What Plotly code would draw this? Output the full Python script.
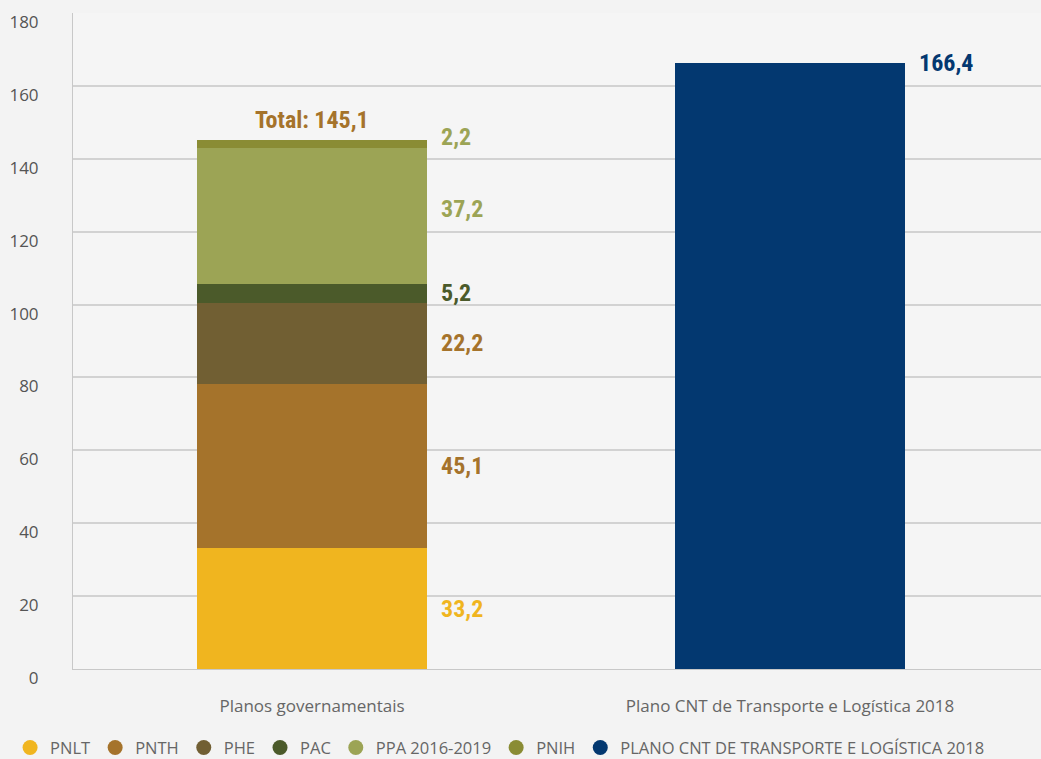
import plotly.graph_objects as go

categories = ["Planos governamentais", "Plano CNT de Transporte e Logística 2018"]
stack_names = ["PNLT", "PNTH", "PHE", "PAC", "PPA 2016-2019", "PNIH"]
stack_values = [33.2, 45.1, 22.2, 5.2, 37.2, 2.2]
stack_colors = ["#F0B51F", "#A5732B", "#715F33", "#4B5A2A", "#9CA455", "#8A8C34"]
label_colors = ["#F0B51F", "#A5732B", "#A5732B", "#4B5A2A", "#9CA455", "#9CA455"]
label_yshift = [0, 0, 0, 0, 7, 7]
cnt_name = "PLANO CNT DE TRANSPORTE E LOGÍSTICA 2018"
cnt_value = 166.4
cnt_color = "#033870"
y_ticks = [0, 20, 40, 60, 80, 100, 120, 140, 160, 180]

def fmt(v):
    return f"{v:.1f}".replace(".", ",")

LABEL_FONT = "Roboto Condensed, Roboto, sans-serif"
TEXT_FONT = "Open Sans, Noto Sans, sans-serif"

fig = go.Figure()
for name, val, col in zip(stack_names, stack_values, stack_colors):
    fig.add_trace(go.Bar(x=[categories[0]], y=[val], marker=dict(color=col, line=dict(width=0)),
                         name=name, showlegend=False, hoverinfo="skip"))
fig.add_trace(go.Bar(x=[categories[1]], y=[cnt_value], marker=dict(color=cnt_color, line=dict(width=0)),
                     name=cnt_name, showlegend=False, hoverinfo="skip"))

for name, col in zip(stack_names + [cnt_name], stack_colors + [cnt_color]):
    fig.add_trace(go.Scatter(x=[None], y=[None], mode="markers", name=name,
                             marker=dict(symbol="circle", size=15, color=col)))

annotations = []
cum = 0
for val, col, ys in zip(stack_values, label_colors, label_yshift):
    annotations.append(dict(x=categories[0], y=cum + val / 2, text=f"<b>{fmt(val)}</b>",
                            xanchor="left", yanchor="middle", xshift=127, yshift=ys,
                            showarrow=False, font=dict(family=LABEL_FONT, size=24, color=col)))
    cum += val
total = sum(stack_values)
annotations.append(dict(x=categories[0], y=total, text=f"<b>Total: {fmt(total)}</b>",
                        xanchor="center", yanchor="bottom", yshift=4, showarrow=False,
                        font=dict(family=LABEL_FONT, size=24, color="#A5732B")))
annotations.append(dict(x=categories[1], y=cnt_value, text=f"<b>{fmt(cnt_value)}</b>",
                        xanchor="left", yanchor="middle", xshift=127, showarrow=False,
                        font=dict(family=LABEL_FONT, size=24, color=cnt_color)))

fig.update_layout(
    width=1041, height=759,
    margin=dict(l=73, r=0, t=13, b=90, autoexpand=False),
    barmode="stack", bargap=0.52,
    paper_bgcolor="#F3F3F3", plot_bgcolor="#F5F5F5",
    font=dict(family=TEXT_FONT, color="#666666"),
    annotations=annotations,
    legend=dict(orientation="h", traceorder="normal", x=-0.065, xanchor="left", y=-0.12, yanchor="middle",
                font=dict(size=16.5, color="#666666"), bgcolor="rgba(0,0,0,0)",
                itemsizing="trace", tracegroupgap=0),
    xaxis=dict(range=[-0.5, 1.525], showgrid=False, showline=True, linecolor="#C8C8C8",
               linewidth=1, ticks="", tickfont=dict(size=17, color="#666666"),
               ticklabelstandoff=22, automargin=False, fixedrange=True),
    yaxis=dict(range=[0, 180], tickvals=y_ticks, showgrid=True, gridcolor="#D2D2D2",
               gridwidth=1.5, showline=True, linecolor="#C8C8C8", linewidth=1,
               zeroline=False, ticks="", ticklabelstandoff=30, ticklabelshift=9,
               ticklabeloverflow="allow", automargin=False,
               tickfont=dict(size=17, color="#555555")),
)

fig.write_html("out.html")
